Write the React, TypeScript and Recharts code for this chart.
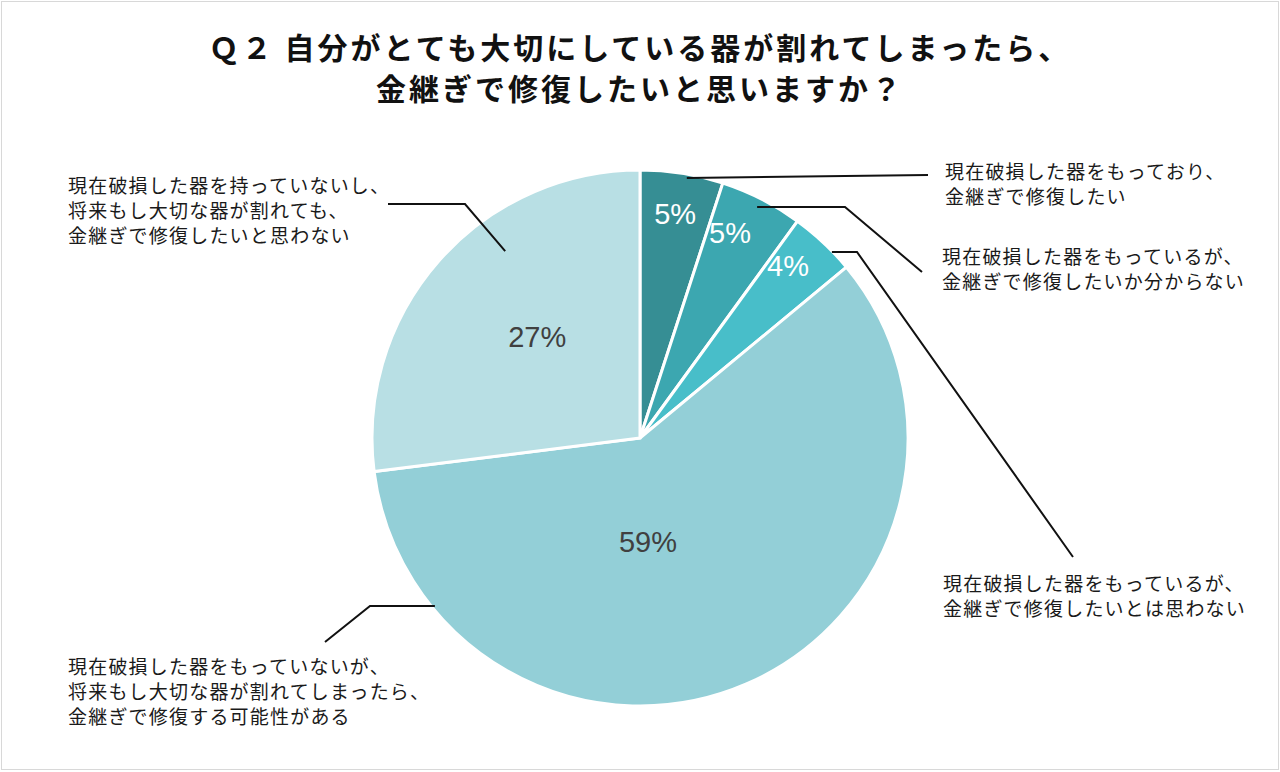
import React from "react";
import { PieChart, Pie, Cell } from "recharts";

const categories = [
  ["現在破損した器をもっており、", "金継ぎで修復したい"],
  ["現在破損した器をもっているが、", "金継ぎで修復したいか分からない"],
  ["現在破損した器をもっているが、", "金継ぎで修復したいとは思わない"],
  ["現在破損した器をもっていないが、", "将来もし大切な器が割れてしまったら、", "金継ぎで修復する可能性がある"],
  ["現在破損した器を持っていないし、", "将来もし大切な器が割れても、", "金継ぎで修復したいと思わない"],
];
const values = [5, 5, 4, 59, 27];
const colors = ["#368e94", "#3ca7b0", "#48bec9", "#93cfd7", "#b8dfe4"];
const titleLines = ["Ｑ２ 自分がとても大切にしている器が割れてしまったら、", "金継ぎで修復したいと思いますか？"];

// annotation layout (relative to pie center)
const pctPos = [
  { a: 81.1, f: 0.847, c: "#ffffff", s: 29 },
  { a: 66.3, f: 0.836, c: "#ffffff", s: 29 },
  { a: 49.3, f: 0.847, c: "#ffffff", s: 29 },
  { a: -85.6, f: 0.39, c: "#404040", s: 29 },
  { a: 135.6, f: 0.537, c: "#404040", s: 29 },
];
const leaders = [
  { a: 79.8, f: 0.986, pts: [[288, -263]], tx: 305, ty: -268 },
  { a: 63.1, f: 0.966, pts: [[205, -231], [282, -166]], tx: 302, ty: -183 },
  { a: 44.1, f: 0.997, pts: [[217, -186], [433, 119]], tx: 303, ty: 144 },
  { a: 219.3, f: 0.989, pts: [[-270, 168], [-315, 204]], tx: -572, ty: 227 },
  { a: 125.8, f: 0.86, pts: [[-175, -234], [-252, -234]], tx: -572, ty: -254 },
];

const data = values.map((v, i) => ({ name: categories[i].join(""), value: v }));

const RAD = Math.PI / 180;
const polar = (cx: number, cy: number, r: number, a: number) => [cx + r * Math.cos(a * RAD), cy - r * Math.sin(a * RAD)];

const renderLabel = (props: any) => {
  const { cx, cy, outerRadius, index, value } = props;
  const p = pctPos[index];
  const [px, py] = polar(cx, cy, outerRadius * p.f, p.a);
  const L = leaders[index];
  const [ax, ay] = polar(cx, cy, outerRadius * L.f, L.a);
  const pts = [[ax, ay], ...L.pts.map(([dx, dy]) => [cx + dx, cy + dy])];
  const lineH = 25;
  return (
    <g key={`lbl-${index}`}>
      <text
        x={px}
        y={py}
        textAnchor="middle"
        dominantBaseline="central"
        fill={p.c}
        fontSize={p.s}
        fontFamily="'Liberation Sans', Arial, sans-serif"
      >
        {`${value}%`}
      </text>
      <polyline
        points={pts.map((q) => q.join(",")).join(" ")}
        fill="none"
        stroke="#111"
        strokeWidth={2}
      />
      {categories[index].map((line, k) => (
        <text
          key={k}
          x={cx + L.tx}
          y={cy + L.ty + k * lineH}
          dominantBaseline="central"
          fill="#1a1a1a"
          fontSize={19}
          letterSpacing={1.2}
          fontFamily="'Noto Sans CJK JP', sans-serif"
        >
          {line}
        </text>
      ))}
    </g>
  );
};

export default function App() {
  return (
    <div style={{ position: "absolute", left: 0, top: 0, width: 1280, height: 772, background: "#fff" }}>
      <div
        style={{
          position: "absolute",
          left: 1,
          top: 1,
          width: 1278,
          height: 769,
          boxSizing: "border-box",
          border: "1.5px solid #d8d8d8",
        }}
      />
      <div
        style={{
          position: "absolute",
          left: 0,
          top: 26,
          width: 1280,
          textAlign: "center",
          fontFamily: "'Noto Sans CJK JP', sans-serif",
          fontWeight: 700,
          fontSize: 30,
          letterSpacing: 3,
          lineHeight: "41px",
          color: "#111",
        }}
      >
        {titleLines.map((t, i) => (
          <div key={i}>{t}</div>
        ))}
      </div>
      <div style={{ position: "absolute", left: 0, top: 0 }}>
        <PieChart width={1280} height={772} margin={{ top: 0, right: 0, bottom: 0, left: 0 }}>
          <Pie
            data={data}
            dataKey="value"
            cx={640}
            cy={438}
            outerRadius={268}
            startAngle={90}
            endAngle={-270}
            stroke="#ffffff"
            strokeWidth={3}
            label={renderLabel}
            labelLine={false}
            isAnimationActive={false}
          >
            {data.map((_, i) => (
              <Cell key={i} fill={colors[i]} />
            ))}
          </Pie>
        </PieChart>
      </div>
    </div>
  );
}
